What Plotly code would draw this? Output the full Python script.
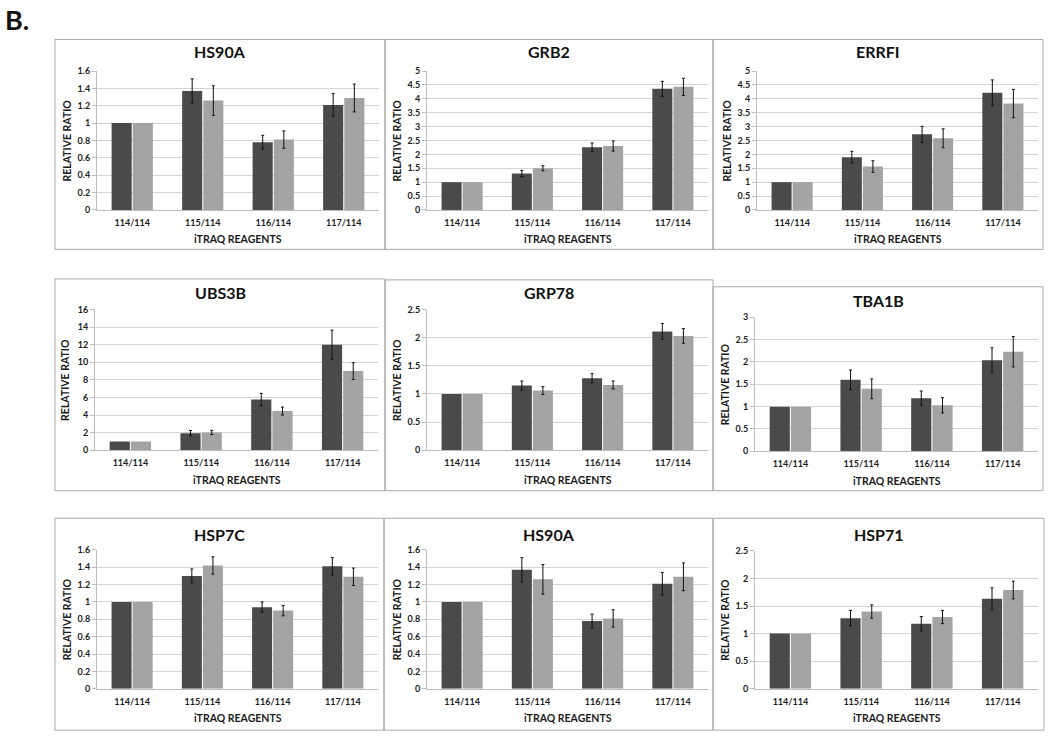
import plotly.graph_objects as go

# ---------------- data ----------------
categories = ["114/114", "115/114", "116/114", "117/114"]

hs90a_dark = [1, 1.37, 0.78, 1.21]
hs90a_light = [1, 1.26, 0.81, 1.29]
hs90a_dark_err = [None, 0.14, 0.08, 0.13]
hs90a_light_err = [None, 0.17, 0.10, 0.16]

grb2_dark = [1, 1.31, 2.26, 4.36]
grb2_light = [1, 1.50, 2.30, 4.43]
grb2_dark_err = [None, 0.11, 0.15, 0.27]
grb2_light_err = [None, 0.09, 0.18, 0.31]

errfi_dark = [1, 1.90, 2.72, 4.22]
errfi_light = [1, 1.56, 2.58, 3.83]
errfi_dark_err = [None, 0.21, 0.29, 0.46]
errfi_light_err = [None, 0.21, 0.34, 0.51]

ubs3b_dark = [1, 1.95, 5.77, 12.0]
ubs3b_light = [1, 2.03, 4.46, 9.0]
ubs3b_dark_err = [None, 0.30, 0.70, 1.65]
ubs3b_light_err = [None, 0.24, 0.45, 0.95]

grp78_dark = [1, 1.15, 1.28, 2.11]
grp78_light = [1, 1.06, 1.16, 2.03]
grp78_dark_err = [None, 0.08, 0.08, 0.14]
grp78_light_err = [None, 0.07, 0.07, 0.13]

tba1b_dark = [1, 1.60, 1.19, 2.04]
tba1b_light = [1, 1.40, 1.03, 2.23]
tba1b_dark_err = [None, 0.22, 0.16, 0.28]
tba1b_light_err = [None, 0.22, 0.17, 0.34]

hsp7c_dark = [1, 1.30, 0.94, 1.41]
hsp7c_light = [1, 1.42, 0.90, 1.29]
hsp7c_dark_err = [None, 0.08, 0.06, 0.10]
hsp7c_light_err = [None, 0.10, 0.06, 0.10]

hsp71_dark = [1, 1.28, 1.18, 1.63]
hsp71_light = [1, 1.40, 1.30, 1.79]
hsp71_dark_err = [None, 0.14, 0.13, 0.20]
hsp71_light_err = [None, 0.12, 0.12, 0.16]

titles = ["HS90A", "GRB2", "ERRFI", "UBS3B", "GRP78", "TBA1B", "HSP7C", "HS90A", "HSP71"]
y_max = [1.6, 5, 5, 16, 2.5, 3, 1.6, 1.6, 2.5]
y_step = [0.2, 0.5, 0.5, 2, 0.5, 0.5, 0.2, 0.2, 0.5]

series = [
    (hs90a_dark, hs90a_light, hs90a_dark_err, hs90a_light_err),
    (grb2_dark, grb2_light, grb2_dark_err, grb2_light_err),
    (errfi_dark, errfi_light, errfi_dark_err, errfi_light_err),
    (ubs3b_dark, ubs3b_light, ubs3b_dark_err, ubs3b_light_err),
    (grp78_dark, grp78_light, grp78_dark_err, grp78_light_err),
    (tba1b_dark, tba1b_light, tba1b_dark_err, tba1b_light_err),
    (hsp7c_dark, hsp7c_light, hsp7c_dark_err, hsp7c_light_err),
    (hs90a_dark, hs90a_light, hs90a_dark_err, hs90a_light_err),
    (hsp71_dark, hsp71_light, hsp71_dark_err, hsp71_light_err),
]

# ---------------- layout (pixels) ----------------
W, H = 1050, 744
frames = [
    (55, 34, 385, 247), (385, 34, 713, 247), (713, 34, 1043, 247),
    (55, 277, 385, 492), (385, 278, 713, 492), (713, 285, 1043, 492),
    (55, 520, 384, 735), (384, 520, 713, 735), (713, 520, 1044, 735),
]
plots = [
    (97, 66, 379, 207), (427, 66, 708, 207), (757, 66, 1038, 207),
    (95, 308, 378, 451), (427, 308, 708, 451), (755, 316, 1038, 452),
    (97, 552, 378, 693), (427, 552, 708, 693), (755, 553, 1038, 693),
]
title_y = [46, 46, 46, 291, 291, 299, 536, 536, 536]

DARK = "#4a4a4a"
LIGHT = "#a3a3a3"
GRID = "#d4d4d4"
AXC = "#bdbdbd"
FONT = "Lato, 'Open Sans', Arial, sans-serif"


def px(x):
    return x / W


def py(y):
    return 1 - y / H


def err_array(values):
    # non-numeric entries make plotly skip the error bar for that point
    return ["NaN" if v is None else v for v in values]


fig = go.Figure()
layout = {}
annotations = []
shapes = []

for i in range(9):
    n = i + 1
    xa = "x" if n == 1 else f"x{n}"
    ya = "y" if n == 1 else f"y{n}"
    dark, light, dark_err, light_err = series[i]
    fig.add_trace(go.Bar(
        x=categories, y=dark, xaxis=xa, yaxis=ya, showlegend=False,
        marker=dict(color=DARK, line=dict(width=0)),
        error_y=dict(type="data", array=err_array(dark_err), color="#111111",
                     thickness=1, width=1.5),
    ))
    fig.add_trace(go.Bar(
        x=categories, y=light, xaxis=xa, yaxis=ya, showlegend=False,
        marker=dict(color=LIGHT, line=dict(width=0)),
        error_y=dict(type="data", array=err_array(light_err), color="#111111",
                     thickness=1, width=1.5),
    ))

    x0, y0, x1, y1 = plots[i]
    tickfont = dict(family=FONT, size=9, color="#1a1a1a", weight="bold")
    layout["xaxis" if n == 1 else f"xaxis{n}"] = dict(
        domain=[px(x0), px(x1)], anchor=ya, showgrid=False, zeroline=False,
        showline=True, linecolor=AXC, linewidth=1, ticks="",
        tickfont=tickfont, ticklabelstandoff=4, fixedrange=True,
    )
    layout["yaxis" if n == 1 else f"yaxis{n}"] = dict(
        domain=[py(y1), py(y0)], anchor=xa, range=[0, y_max[i] * 1.0001],
        tick0=0, dtick=y_step[i], showgrid=True, gridcolor=GRID, gridwidth=1,
        zeroline=False, showline=True, linecolor=AXC, linewidth=1,
        ticks="outside", ticklen=4, tickcolor=AXC, tickfont=tickfont,
        fixedrange=True,
    )

    fx0, fy0, fx1, fy1 = frames[i]
    shapes.append(dict(type="rect", xref="paper", yref="paper",
                       x0=px(fx0), x1=px(fx1), y0=py(fy1), y1=py(fy0),
                       line=dict(color="#a8a8a8", width=1), fillcolor="rgba(0,0,0,0)",
                       layer="below"))
    annotations.append(dict(text=titles[i], xref="paper", yref="paper",
                            x=px((fx0 + fx1) / 2), y=py(title_y[i]),
                            xanchor="center", yanchor="middle", showarrow=False,
                            font=dict(family=FONT, size=16, color="#111111", weight="bold")))
    annotations.append(dict(text="iTRAQ REAGENTS", xref="paper", yref="paper",
                            x=px((x0 + x1) / 2), y=py(y1 + 30),
                            xanchor="center", yanchor="middle", showarrow=False,
                            font=dict(family=FONT, size=10.5, color="#1a1a1a", weight="bold")))
    annotations.append(dict(text="RELATIVE RATIO", xref="paper", yref="paper",
                            x=px(x0 - 30), y=py((y0 + y1) / 2), textangle=-90,
                            xanchor="center", yanchor="middle", showarrow=False,
                            font=dict(family=FONT, size=10.5, color="#1a1a1a", weight="bold")))

annotations.append(dict(text="B.", xref="paper", yref="paper", x=px(3), y=py(14),
                        xanchor="left", yanchor="middle", showarrow=False,
                        font=dict(family=FONT, size=27, color="#111111", weight="bold")))

fig.update_layout(
    width=W, height=H, margin=dict(l=0, r=0, t=0, b=0),
    paper_bgcolor="white", plot_bgcolor="white",
    barmode="group", bargap=0.4, bargroupgap=0.05,
    hovermode=False,
    annotations=annotations, shapes=shapes,
    **layout,
)

fig.write_html(
    "out.html",
    config={"displayModeBar": False, "staticPlot": True},
    post_script="document.body.style.margin='0';document.body.style.padding='0';"
                "document.body.style.overflow='hidden';",
)
